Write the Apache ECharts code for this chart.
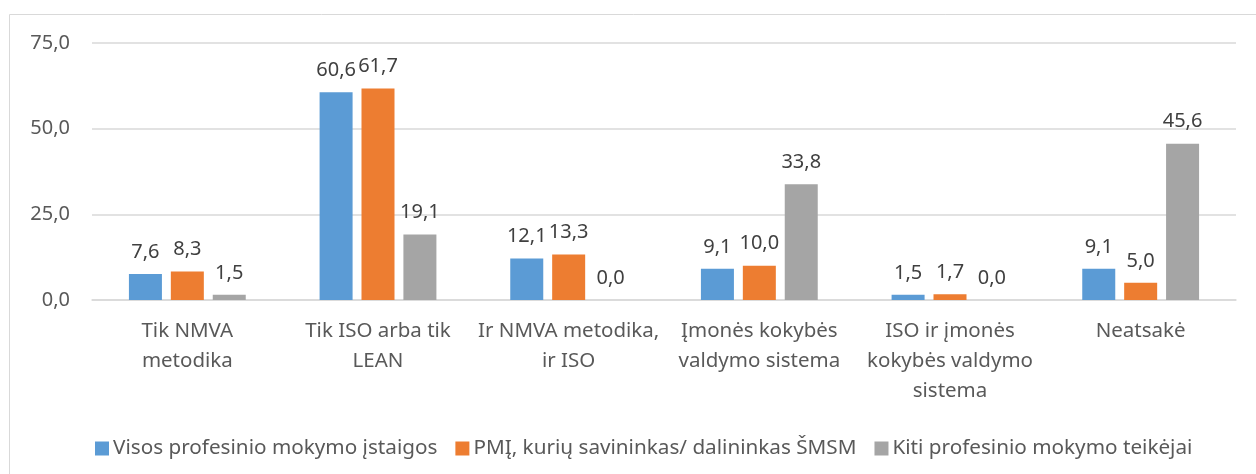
<!DOCTYPE html>
<html>
<head>
<meta charset="utf-8">
<title>Kokybės valdymo sistemos</title>
<script src="https://cdn.jsdelivr.net/npm/echarts@6/dist/echarts.min.js"></script>
<style>
    html,body{
        margin: 0;
        padding: 0;
        background: #fff;
    }
    #qualityChart{
        width: 1256px;
        height: 474px;
        position: relative;
    }
</style>
</head>
<body>
<div id="qualityChart"></div>
<script>
    // kategorijos (eilutes laužomos kaip originale)
    var categories = [
        'Tik NMVA\nmetodika',
        'Tik ISO arba tik\nLEAN',
        'Ir NMVA metodika,\nir ISO',
        'Įmonės kokybės\nvaldymo sistema',
        'ISO ir įmonės\nkokybės valdymo\nsistema',
        'Neatsakė'
    ];
    var seriesNames = [
        'Visos profesinio mokymo įstaigos',
        'PMĮ, kurių savininkas/ dalininkas ŠMSM',
        'Kiti profesinio mokymo teikėjai'
    ];
    var allInstitutions = [7.6, 60.6, 12.1, 9.1, 1.5, 9.1];
    var pmiShare = [8.3, 61.7, 13.3, 10.0, 1.7, 5.0];
    var otherProviders = [1.5, 19.1, 0.0, 33.8, 0.0, 45.6];
    var yTicks = [0, 25, 50, 75];

    var colors = ['#5B9BD5', '#ED7D31', '#A5A5A5'];
    var textColor = '#595959';
    var fontFamily = '"Noto Sans", sans-serif';

    function fmt(v){
        return Number(v).toFixed(1).replace('.', ',');
    }

    function makeSeries(name, data, color){
        return {
            name: name,
            type: 'bar',
            data: data,
            barWidth: 33,
            barGap: '27%',
            itemStyle: {color: color},
            label: {
                show: true,
                position: 'top',
                distance: 12,
                color: '#404040',
                fontSize: 20,
                fontFamily: fontFamily,
                formatter: function(p){ return fmt(p.value); }
            }
        };
    }

    var chart = echarts.init(document.getElementById('qualityChart'), null, {renderer: 'canvas'});
    var option = {
        animation: false,
        textStyle: {fontFamily: fontFamily},
        grid: {
            left: 92,
            right: 20,
            top: 43,
            bottom: 174
        },
        graphic: [{
            type: 'rect',
            silent: true,
            shape: {x: 9.5, y: 14.5, width: 1260, height: 480},
            style: {fill: 'none', stroke: '#D9D9D9', lineWidth: 1}
        }],
        legend: {
            left: 90,
            top: 433,
            itemWidth: 14,
            itemHeight: 14,
            itemGap: 18,
            icon: 'rect',
            data: seriesNames,
            textStyle: {color: textColor, fontSize: 20.7, fontFamily: fontFamily, padding: [0, 0, 0, -1]}
        },
        xAxis: {
            type: 'category',
            data: categories,
            axisLine: {lineStyle: {color: '#D9D9D9', width: 1.5}},
            axisTick: {show: false},
            axisLabel: {
                color: textColor,
                fontSize: 20.5,
                lineHeight: 30,
                margin: 16,
                interval: 0,
                fontFamily: fontFamily
            }
        },
        yAxis: {
            type: 'value',
            min: yTicks[0],
            max: yTicks[yTicks.length - 1],
            interval: yTicks[1] - yTicks[0],
            axisLine: {show: false},
            axisTick: {show: false},
            splitLine: {lineStyle: {color: '#D9D9D9', width: 1.5}},
            axisLabel: {
                color: textColor,
                fontSize: 20,
                margin: 22,
                fontFamily: fontFamily,
                formatter: function(v){ return fmt(v); }
            }
        },
        series: [
            makeSeries(seriesNames[0], allInstitutions, colors[0]),
            makeSeries(seriesNames[1], pmiShare, colors[1]),
            makeSeries(seriesNames[2], otherProviders, colors[2])
        ]
    };
    chart.setOption(option);
</script>
</body>
</html>
